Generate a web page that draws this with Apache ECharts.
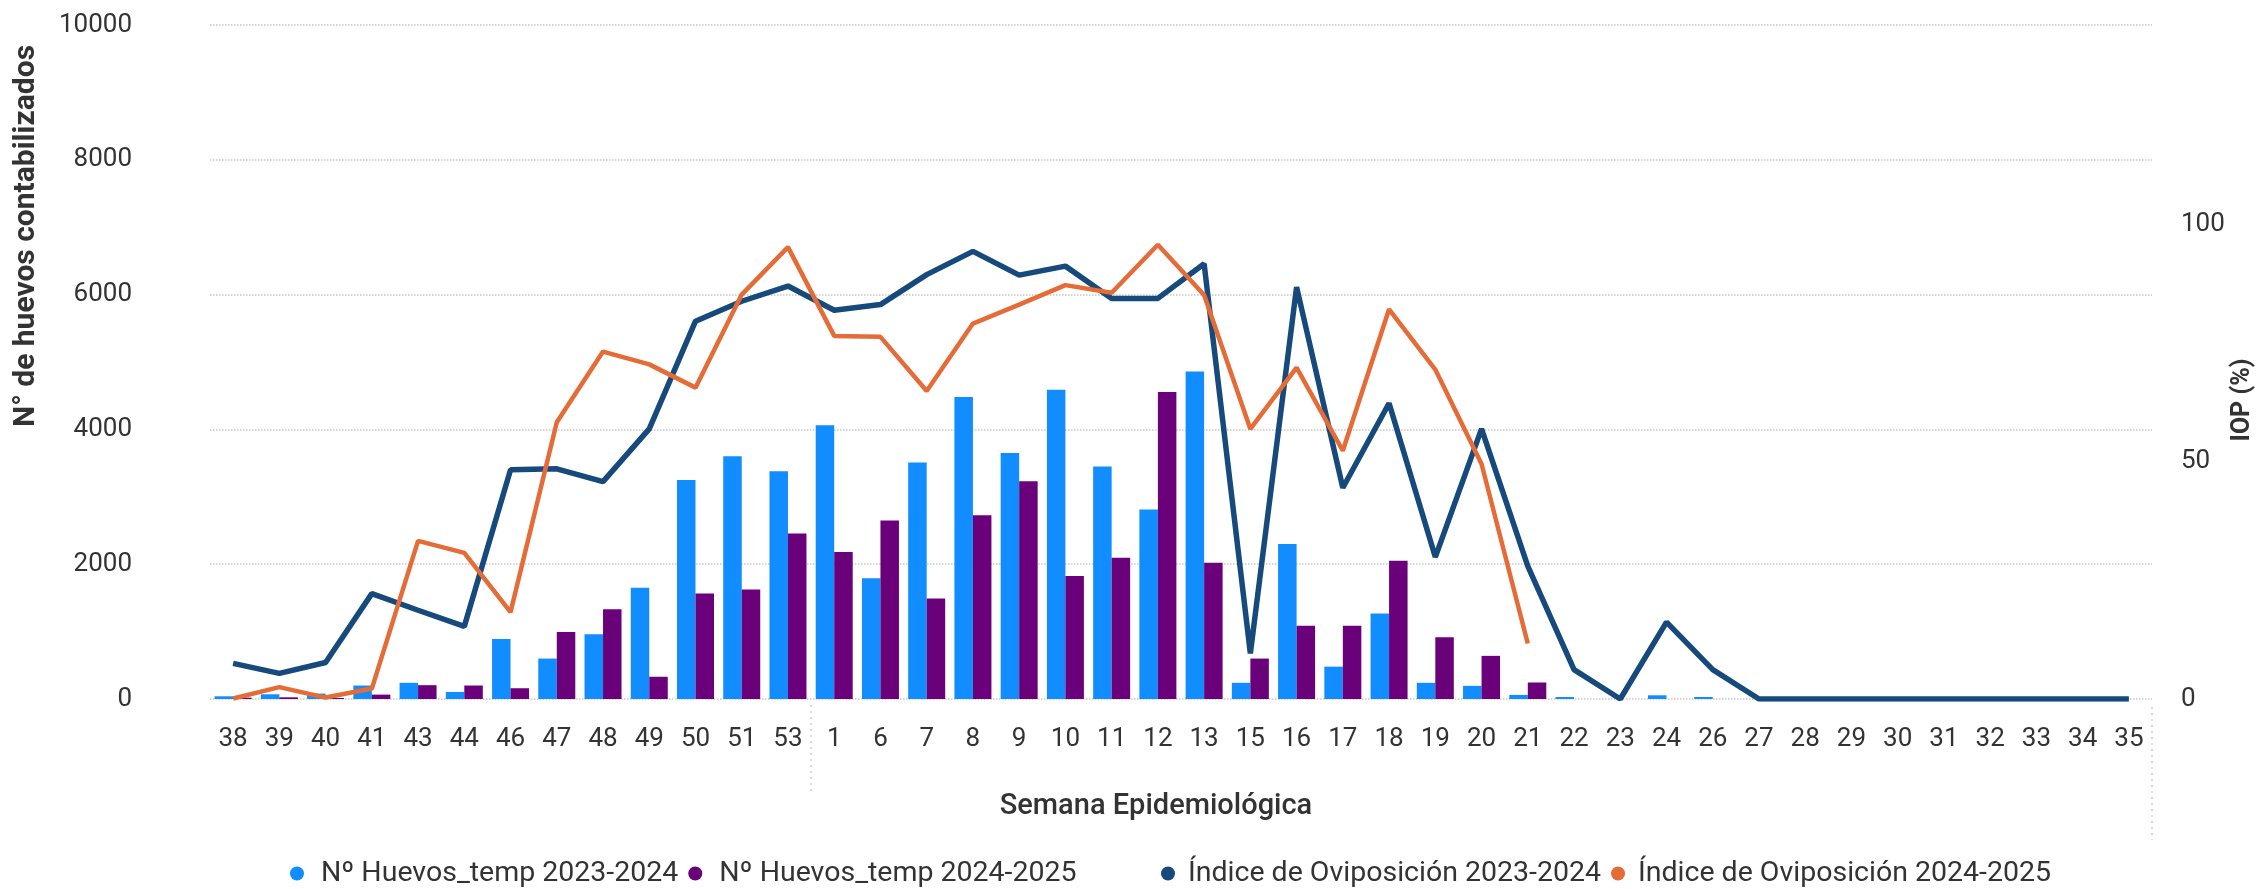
<!DOCTYPE html>
<html>
<head>
<meta charset="utf-8">
<script src="https://cdn.jsdelivr.net/npm/echarts@6/dist/echarts.min.js"></script>
<style>
    html, body { margin: 0; padding: 0; background: #fff; }
    #chart_01 { width: 2257px; height: 889px; }
</style>
</head>
<body>
<div id="chart_01"></div>
<script>
// semanas epidemiológicas (eje x)
var semanas = ['38','39','40','41','43','44','46','47','48','49','50','51','53','1','6','7','8','9','10','11','12','13','15','16','17','18','19','20','21','22','23','24','26','27','28','29','30','31','32','33','34','35'];

// Nº huevos (eje izquierdo)
var huevos2324 = [40, 70, 80, 200, 240, 105, 890, 600, 960, 1650, 3250, 3600, 3380, 4060, 1790, 3510, 4480, 3650, 4590, 3450, 2810, 4860, 240, 2300, 480, 1270, 240, 195, 60, 30, null, 55, 30, null, null, null, null, null, null, null, null, null];
var huevos2425 = [20, 25, 15, 65, 205, 200, 160, 995, 1330, 330, 1565, 1625, 2455, 2180, 2650, 1490, 2725, 3230, 1825, 2095, 4555, 2020, 600, 1085, 1085, 2050, 915, 640, 245, null, null, null, null, null, null, null, null, null, null, null, null, null];

// Índice de Oviposición (eje derecho, %)
var iop2324 = [7.5, 5.4, 7.7, 22.2, 18.7, 15.3, 48.3, 48.5, 45.8, 56.9, 79.6, 83.8, 87.0, 81.9, 83.1, 89.4, 94.3, 89.3, 91.2, 84.4, 84.4, 91.7, 9.6, 86.8, 44.5, 62.3, 29.9, 56.9, 28.0, 6.2, 0, 16.2, 6.2, 0, 0, 0, 0, 0, 0, 0, 0, 0];
var iop2425 = [0.1, 2.5, 0.3, 2.2, 33.3, 30.8, 18.3, 58.3, 73.2, 70.5, 65.6, 85.2, 95.2, 76.5, 76.3, 64.9, 79.1, 83.1, 87.2, 85.6, 95.7, 85.1, 56.9, 69.8, 52.3, 82.1, 69.4, 49.5, 11.7, null, null, null, null, null, null, null, null, null, null, null, null, null];

var nombres = ['Nº Huevos_temp 2023-2024', 'Nº Huevos_temp 2024-2025', 'Índice de Oviposición 2023-2024', 'Índice de Oviposición 2024-2025'];
var colores = ['#118DFF', '#6B007B', '#174A7C', '#E66C37'];

var FONT = 'Roboto';
var TXT = '#333333';

function getOption() {
    return {
        animation: false,
        textStyle: { fontFamily: FONT },
        grid: { left: 210, right: 105, top: 25, bottom: 190 },
        legend: [
            {
                data: [nombres[0], nombres[1]],
                left: 285, top: 854,
                icon: 'circle', itemWidth: 14, itemHeight: 14, itemGap: 10,
                textStyle: { fontFamily: FONT, fontSize: 28.5, color: TXT, padding: [0, 0, 0, 12] }
            },
            {
                data: [nombres[2], nombres[3]],
                left: 1156, top: 854,
                icon: 'circle', itemWidth: 14, itemHeight: 14, itemGap: 10,
                textStyle: { fontFamily: FONT, fontSize: 28.5, color: TXT, padding: [0, 0, 0, 8] }
            }
        ],
        xAxis: {
            type: 'category',
            data: semanas,
            axisLine: { show: false },
            axisTick: { show: false },
            axisLabel: { interval: 0, margin: 27, fontSize: 26, color: TXT, fontFamily: FONT }
        },
        yAxis: [
            {
                type: 'value',
                min: 0, max: 10000, interval: 2000,
                axisLine: { show: false },
                axisTick: { show: false },
                axisLabel: { margin: 78, fontSize: 26, color: TXT, fontFamily: FONT, formatter: function (v) { return String(v); } },
                splitLine: { lineStyle: { color: '#c8c8c8', type: 'dotted', width: 1.5 } }
            },
            {
                type: 'value',
                min: 0, max: 142, interval: 50,
                axisLine: { show: false },
                axisTick: { show: false },
                axisLabel: { margin: 29, fontSize: 26, color: TXT, fontFamily: FONT, showMaxLabel: false },
                splitLine: { show: false }
            }
        ],
        series: [
            {
                name: nombres[0], type: 'bar', data: huevos2324,
                barWidth: 18.5, barGap: '0%',
                itemStyle: { color: colores[0] }
            },
            {
                name: nombres[1], type: 'bar', data: huevos2425,
                barWidth: 18.5, barGap: '0%',
                itemStyle: { color: colores[1] }
            },
            {
                name: nombres[2], type: 'line', yAxisIndex: 1, data: iop2324,
                showSymbol: false, symbol: 'circle',
                itemStyle: { color: colores[2] },
                lineStyle: { width: 5.5, color: colores[2] }
            },
            {
                name: nombres[3], type: 'line', yAxisIndex: 1, data: iop2425,
                showSymbol: false, symbol: 'circle',
                itemStyle: { color: colores[3] },
                lineStyle: { width: 4.5, color: colores[3] }
            }
        ],
        graphic: [
            {
                id: 'tituloY', type: 'text', x: 26, y: 236, rotation: Math.PI / 2,
                style: { text: 'N° de huevos contabilizados', font: 'bold 30px Roboto', fill: TXT, align: 'center', verticalAlign: 'middle' }
            },
            {
                id: 'tituloY2', type: 'text', x: 2243, y: 400, rotation: Math.PI / 2,
                style: { text: 'IOP (%)', font: 'bold 25px Roboto', fill: TXT, align: 'center', verticalAlign: 'middle' }
            },
            {
                id: 'tituloX', type: 'text', x: 1156, y: 807,
                style: { text: 'Semana Epidemiológica', font: '500 29px Roboto', fill: TXT, align: 'center', verticalAlign: 'middle' }
            }
        ]
    };
}

var myChart = echarts.init(document.getElementById('chart_01'));
myChart.setOption(getOption());

// separadores de año (punteados bajo el eje)
var xa = myChart.convertToPixel({ xAxisIndex: 0 }, '53');
var xb = myChart.convertToPixel({ xAxisIndex: 0 }, '1');
var xEnd = myChart.convertToPixel({ xAxisIndex: 0 }, '35') + (xb - xa) / 2;
var y0 = myChart.convertToPixel({ yAxisIndex: 0 }, 0);
myChart.setOption({
    graphic: [
        { id: 'sep1', type: 'line', shape: { x1: (xa + xb) / 2, y1: y0 + 6, x2: (xa + xb) / 2, y2: y0 + 95 },
          style: { stroke: '#d0d0d0', lineWidth: 1.5, lineDash: [2, 4] } },
        { id: 'sep2', type: 'line', shape: { x1: xEnd, y1: y0 + 8, x2: xEnd, y2: y0 + 141 },
          style: { stroke: '#d0d0d0', lineWidth: 1.5, lineDash: [2, 4] } }
    ]
});
</script>
</body>
</html>
